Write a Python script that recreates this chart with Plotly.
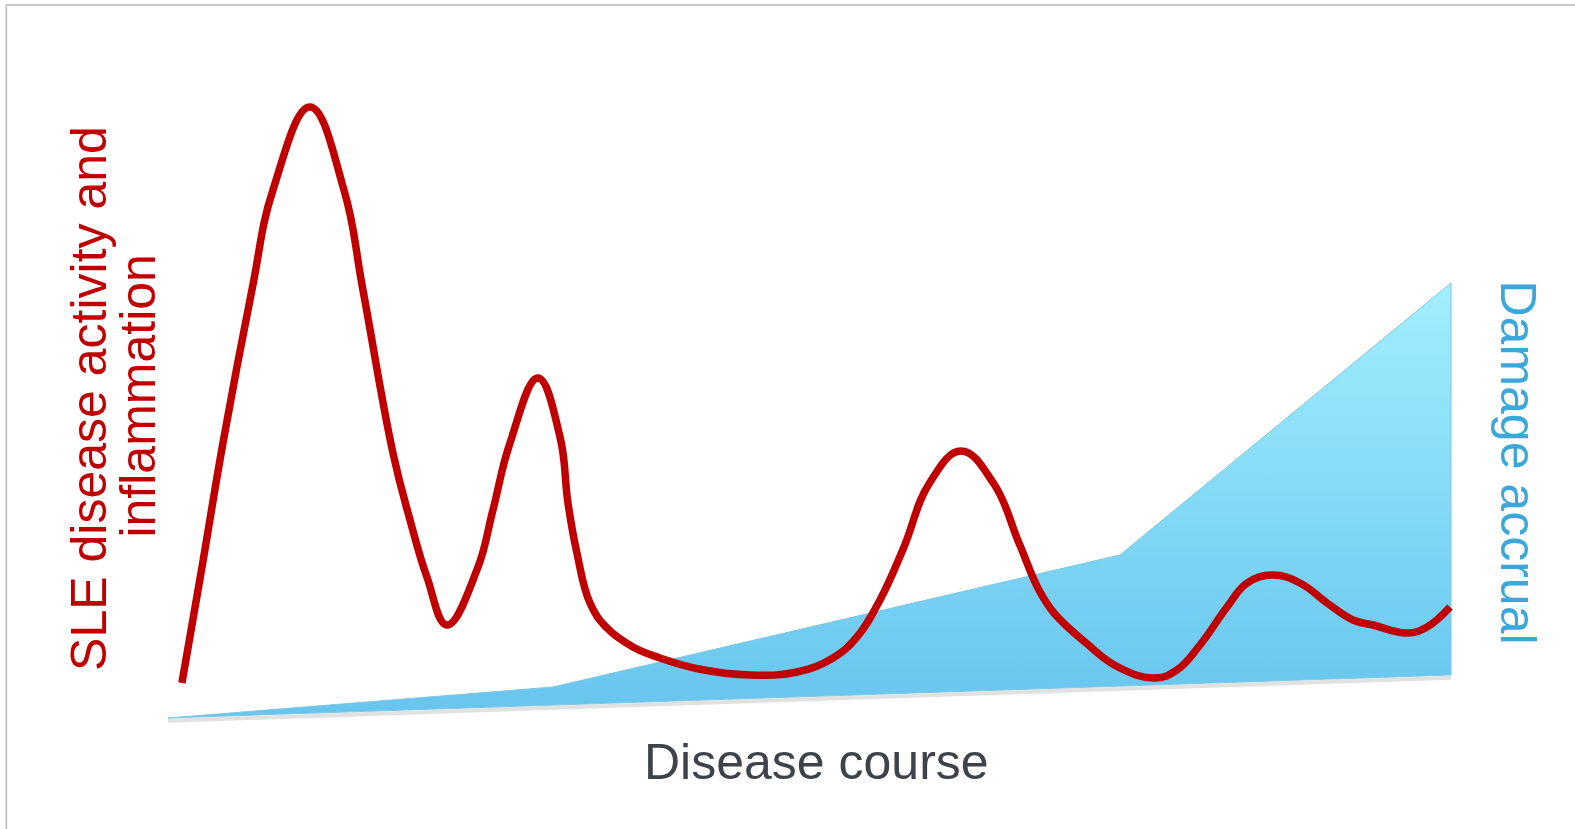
import plotly.graph_objects as go

# disease course (0-100) vs SLE activity level (0-100)
ACTIVITY_COURSE = [1.09, 2.71, 4.29, 6.55, 8.19, 11.08, 13.73, 15.21, 17.55, 18.88, 20.20, 21.76,
                   24.10, 25.35, 26.68, 28.86, 30.58, 31.20, 31.90, 32.92, 34.24, 36.27, 38.38,
                   41.42, 45.40, 49.06, 51.87, 53.74, 55.54, 57.41, 59.36, 61.86, 64.43, 66.38,
                   67.94, 69.11, 71.61, 74.10, 76.99, 78.71, 80.50, 82.61, 84.17, 86.19, 88.30,
                   90.41, 92.43, 93.99, 96.65, 98.21, 100.0]
ACTIVITY_LEVEL = [5.77, 25.28, 44.80, 69.67, 85.93, 99.43, 85.93, 69.67, 43.17, 32.28, 23.01, 15.20,
                  24.15, 33.90, 44.80, 55.37, 45.77, 35.04, 26.91, 18.78, 14.72, 11.63, 9.84,
                  8.05, 7.07, 7.56, 9.84, 13.25, 19.27, 27.89, 38.13, 43.50, 38.13, 28.54,
                  20.89, 17.15, 12.28, 8.37, 6.59, 7.89, 11.95, 18.13, 22.03, 23.33, 22.03,
                  18.78, 16.02, 15.20, 13.90, 14.88, 18.13]

# damage accrual wedge: upper edge then back along the lower edge
DAMAGE_COURSE = [0.0, 30.03, 74.26, 100.08, 100.08, 0.0]
DAMAGE_LEVEL = [0.08, 5.12, 26.59, 70.81, 7.07, 0.08]

LEFT_LABEL = ["SLE disease activity and", "inflammation"]
RIGHT_LABEL = "Damage accrual"
BOTTOM_LABEL = "Disease course"

RED = "#C00000"
FONT = "Liberation Sans, Arial, sans-serif"

fig = go.Figure()

# soft shadow under the wedge's lower edge
fig.add_trace(
    go.Scatter(
        x=[DAMAGE_COURSE[4], DAMAGE_COURSE[5]],
        y=[DAMAGE_LEVEL[4] - 0.45, DAMAGE_LEVEL[5] - 0.45],
        mode="lines",
        line=dict(color="rgba(90,90,90,0.18)", width=4),
        hoverinfo="skip",
        showlegend=False,
    )
)

fig.add_trace(
    go.Scatter(
        x=DAMAGE_COURSE,
        y=DAMAGE_LEVEL,
        mode="lines",
        fill="toself",
        fillgradient=dict(
            type="vertical",
            colorscale=[[0, "#66C4EE"], [1, "#A2EFFD"]],
        ),
        line=dict(color="#7FC6E2", width=1),
        hoverinfo="skip",
        showlegend=False,
    )
)

fig.add_trace(
    go.Scatter(
        x=ACTIVITY_COURSE,
        y=ACTIVITY_LEVEL,
        mode="lines",
        line=dict(color=RED, width=7.5, shape="spline", smoothing=1.2, simplify=False),
        hoverinfo="skip",
        showlegend=False,
    )
)

fig.add_annotation(
    text=LEFT_LABEL[0], x=0.0565, y=0.52, xref="paper", yref="paper",
    textangle=-90, showarrow=False, xanchor="center", yanchor="middle",
    font=dict(family=FONT, size=50, color=RED),
)
fig.add_annotation(
    text=LEFT_LABEL[1], x=0.0878, y=0.522, xref="paper", yref="paper",
    textangle=-90, showarrow=False, xanchor="center", yanchor="middle",
    font=dict(family=FONT, size=50, color=RED),
)
fig.add_annotation(
    text=RIGHT_LABEL, x=0.9635, y=0.4427, xref="paper", yref="paper",
    textangle=90, showarrow=False, xanchor="center", yanchor="middle",
    font=dict(family=FONT, size=50, color="#3BA7DB"),
)
fig.add_annotation(
    text=BOTTOM_LABEL, x=0.5187, y=0.0808, xref="paper", yref="paper",
    showarrow=False, xanchor="center", yanchor="middle",
    font=dict(family=FONT, size=50, color="#3E4349"),
)

# slide frame
fig.add_shape(
    type="rect", xref="paper", yref="paper",
    x0=6.3 / 1575, x1=1.05, y0=-0.05, y1=1 - 5 / 829,
    line=dict(color="#C8C8C8", width=2),
)

fig.update_layout(
    width=1575,
    height=829,
    margin=dict(l=0, r=0, t=0, b=0),
    paper_bgcolor="white",
    plot_bgcolor="white",
    xaxis=dict(range=[-13.10, 109.75], visible=False, fixedrange=True),
    yaxis=dict(range=[-17.97, 116.83], visible=False, fixedrange=True),
)

fig.write_html(
    "out.html",
    config={"displayModeBar": False},
    post_script="document.body.style.margin = '0'; document.body.style.overflow = 'hidden';",
)
